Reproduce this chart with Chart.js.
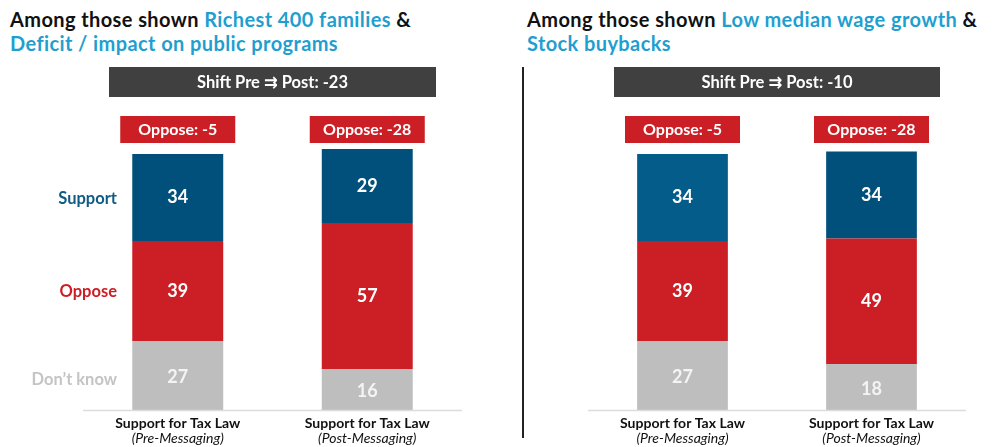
<!DOCTYPE html>
<html>
<head>
<meta charset="utf-8">
<script src="https://cdn.jsdelivr.net/npm/chart.js@4.4.0/dist/chart.umd.min.js"></script>
<style>
  html, body { margin: 0; padding: 0; background: #fff; }
  #wrap { position: relative; width: 995px; height: 447px; overflow: hidden; font-family: Lato, "Open Sans", sans-serif; }
  .title { position: absolute; font-weight: 700; font-size: 20px; letter-spacing: 0.4px; line-height: 24px; color: #111; white-space: nowrap; }
  .title span { color: #1f9fd0; }
  .panel { position: absolute; top: 0; height: 447px; }
  #divider { position: absolute; left: 522px; top: 67px; width: 2px; height: 371px; background: #222; }
</style>
</head>
<body>
<div id="wrap">
  <div class="title" style="left:10px; top:7px;">Among those shown <span>Richest 400 families</span> &amp;<br><span>Deficit / impact on public programs</span></div>
  <div class="title" style="left:527px; top:7px;">Among those shown <span>Low median wage growth</span> &amp;<br><span>Stock buybacks</span></div>
  <div class="panel" style="left:0; width:500px;"><canvas id="leftChart"></canvas></div>
  <div class="panel" style="left:500px; width:495px;"><canvas id="rightChart"></canvas></div>
  <div id="divider"></div>
</div>
<script>
// Data
const categories = ['Support for Tax Law', 'Support for Tax Law'];
const subLabels = ['(Pre-Messaging)', '(Post-Messaging)'];
const seriesNames = ['Support', 'Oppose', 'Don\u2019t know'];

const supportLeft = [34, 29];
const opposeLeft = [39, 57];
const dontKnowLeft = [27, 16];
const opposeNetLeft = [-5, -28];
const shiftLeft = -23;

const supportRight = [34, 34];
const opposeRight = [39, 49];
const dontKnowRight = [27, 18];
const opposeNetRight = [-5, -28];
const shiftRight = -10;

// Colours
const RED = '#cc1e25';
const GRAY = '#bebebe';
const BANNER = '#404040';

const overlayPlugin = {
    id: 'overlay',
    afterDatasetsDraw(chart) {
        const ctx = chart.ctx;
        const opts = chart.options.plugins.overlay;
        const area = chart.chartArea;
        ctx.save();

        // baseline
        ctx.strokeStyle = '#dcdcdc';
        ctx.lineWidth = 1.5;
        ctx.beginPath();
        ctx.moveTo(area.left, area.bottom + 0.5);
        ctx.lineTo(area.right, area.bottom + 0.5);
        ctx.stroke();

        // value labels inside segments
        ctx.textAlign = 'center';
        ctx.textBaseline = 'middle';
        ctx.font = 'bold 18px Lato';
        chart.data.datasets.forEach((ds, di) => {
            const meta = chart.getDatasetMeta(di);
            meta.data.forEach((bar, i) => {
                const mid = (bar.y + bar.base) / 2;
                ctx.fillStyle = di === 0 ? '#f4f4f4' : '#ffffff';
                ctx.fillText(String(ds.data[i]), bar.x, mid + (di === 0 ? 2 : 0));
            });
        });

        // banner
        const cx = (area.left + area.right) / 2;
        const bw = area.right - area.left - 52;
        ctx.fillStyle = BANNER;
        ctx.fillRect(cx - bw / 2, 67, bw, 30);
        ctx.fillStyle = '#fff';
        ctx.font = 'bold 16.5px Lato, "DejaVu Sans"';
        ctx.fillText('Shift Pre \u21c9 Post: ' + opts.shift, cx, 82.5);

        // oppose badges and x labels
        const topMeta = chart.getDatasetMeta(2);
        topMeta.data.forEach((bar, i) => {
            ctx.fillStyle = RED;
            ctx.fillRect(bar.x - 57.5, 116, 115, 27);
            ctx.fillStyle = '#fff';
            ctx.font = 'bold 16px Lato';
            ctx.fillText('Oppose: ' + opts.net[i], bar.x, 130);

            ctx.fillStyle = '#111';
            ctx.font = 'bold 14px Lato';
            ctx.fillText(chart.data.labels[i], bar.x, 423);
            ctx.font = 'italic 14px Lato';
            ctx.fillText(subLabels[i], bar.x, 438.5);
        });

        // row labels (left panel only)
        if (opts.rowLabels) {
            ctx.textAlign = 'right';
            ctx.font = 'bold 16.5px Lato';
            const colors = ['#c4c4c4', RED, '#0f5b84'];
            [0, 1, 2].forEach(di => {
                const bar = chart.getDatasetMeta(di).data[0];
                ctx.fillStyle = colors[di];
                ctx.fillText(seriesNames[2 - di], 117, (bar.y + bar.base) / 2 + (di === 0 ? 4 : 1));
            });
        }
        ctx.restore();
    }
};

function makeChart(id, support, oppose, dontKnow, supportColors, net, shift, rowLabels, pad) {
    const ctx = document.getElementById(id).getContext('2d');
    return new Chart(ctx, {
        type: 'bar',
        data: {
            labels: categories,
            datasets: [
                { label: seriesNames[2], data: dontKnow, backgroundColor: GRAY },
                { label: seriesNames[1], data: oppose, backgroundColor: RED },
                { label: seriesNames[0], data: support, backgroundColor: supportColors }
            ]
        },
        options: {
            responsive: true,
            maintainAspectRatio: false,
            animation: false,
            layout: { padding: pad },
            datasets: { bar: { barPercentage: 0.96, categoryPercentage: 0.5, clip: false } },
            scales: {
                x: { stacked: true, display: false },
                y: { stacked: true, display: false, min: 0, max: 100 }
            },
            plugins: {
                legend: { display: false },
                tooltip: { enabled: false },
                overlay: { net: net, shift: shift, rowLabels: rowLabels }
            }
        },
        plugins: [overlayPlugin]
    });
}

makeChart('leftChart', supportLeft, opposeLeft, dontKnowLeft, ['#01507b', '#01507b'],
    opposeNetLeft, shiftLeft, true, { left: 83, right: 38, top: 154, bottom: 37 });
makeChart('rightChart', supportRight, opposeRight, dontKnowRight, ['#035c89', '#01507b'],
    opposeNetRight, shiftRight, false, { left: 88, right: 29, top: 154, bottom: 37 });
</script>
</body>
</html>
